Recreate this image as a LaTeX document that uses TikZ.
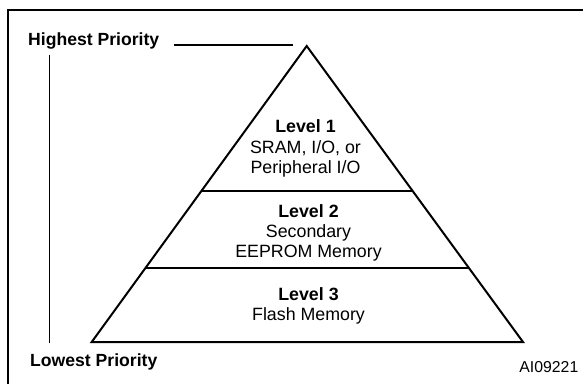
\documentclass[tikz,border=0pt]{standalone}
\usepackage{fontspec}
\setmainfont{Liberation Sans}
\usetikzlibrary{calc}
\tikzset{
  frameline/.style={line width=2pt},
  pyr/.style={line width=2pt, line join=miter},
  divider/.style={line width=1.7pt},
  thinline/.style={line width=1.2pt},
  lvltext/.style={inner sep=0pt, align=center, font=\fontsize{17.8}{20.3}\selectfont},
  prio/.style={inner sep=0pt, font=\fontsize{17.6}{20}\selectfont\bfseries},
  refcode/.style={inner sep=0pt, font=\fontsize{15.8}{18}\selectfont}
}
\begin{document}
\begin{tikzpicture}[x=1pt,y=-1pt]
\useasboundingbox (0,0) rectangle (583,383);
% frame (cropped at right and bottom)
\draw[frameline] (8.3,400) -- (8.3,10.3) -- (600,10.3);
% pyramid
\coordinate (apex) at (306.7,46);
\coordinate (bl) at (91.7,342);
\coordinate (br) at (523,342);
\draw[pyr] (apex) -- (br) -- (bl) -- cycle;
\coordinate (d1l) at ($(apex)!0.489!(bl)$);
\coordinate (d1r) at ($(apex)!0.489!(br)$);
\coordinate (d2l) at ($(apex)!0.751!(bl)$);
\coordinate (d2r) at ($(apex)!0.751!(br)$);
\draw[divider] (d1l) -- (d1r);
\draw[divider] (d2l) -- (d2r);
% level texts
\node[lvltext] (lv1) at (305.5,148.5) {\textbf{Level 1}\\SRAM, I/O, or\\Peripheral I/O};
\node[lvltext] (lv2) at (308.5,232.9) {\textbf{Level 2}\\Secondary\\EEPROM Memory};
\node[lvltext] (lv3) at (308.5,306) {\textbf{Level 3}\\Flash Memory};
% priority labels
\node[prio, anchor=base west] (hp) at (28,45.7) {Highest Priority};
\coordinate (hpstart) at (174,45);
\coordinate (hpend) at (292.7,45);
\draw[thinline] (hpstart) -- (hpend);
\node[prio, anchor=base west] (lp) at (30,366) {Lowest Priority};
\coordinate (vtop) at (49.8,54.5);
\coordinate (vbot) at (49.8,343);
\draw[thinline] (vtop) -- (vbot);
% reference code
\node[refcode, anchor=base east] (code) at (578.5,372) {AI09221};
\end{tikzpicture}
\end{document}
